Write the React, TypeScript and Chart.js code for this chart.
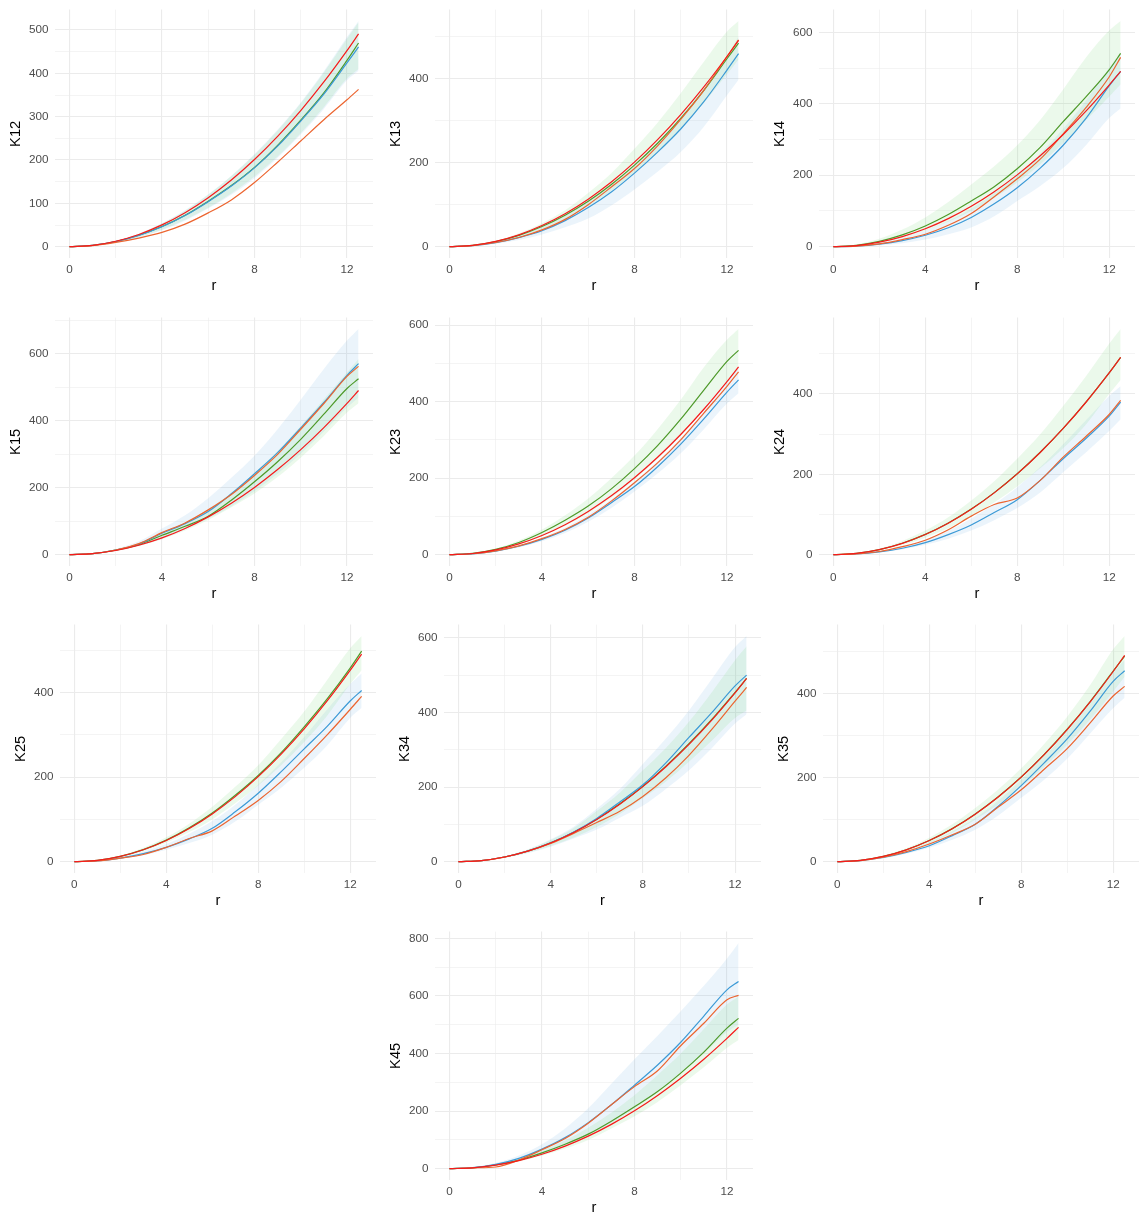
import React, { useEffect, useRef } from "react";
import { Chart, registerables } from "chart.js";

Chart.register(...registerables);

const FONT = "'Liberation Sans', Arial, Helvetica, sans-serif";

// radius values (x axis)
const R = [0, 1, 2, 3, 4, 5, 6, 7, 8, 9, 10, 11, 12, 12.5];
// theoretical K (red line)
const THEO = [0, 3.1, 12.6, 28.3, 50.3, 78.5, 113.1, 153.9, 201.1, 254.5, 314.2, 380.1, 452.4, 490.9];

// K12
const K12_OBS = [0, 2.5, 10, 20, 33, 52, 78, 108, 148, 195, 244, 293, 339, 363];
const K12_BLUE = [0, 3, 11.6, 26, 46, 72, 104, 140, 182, 232, 290, 352, 424, 461];
const K12_GREEN = [0, 3, 11.8, 26.4, 46.5, 72.5, 105, 141, 183, 234, 292, 355, 430, 470];
const K12_BLUE_LO = [0, 2.4, 9.5, 21.5, 38, 60, 88, 120, 158, 205, 259, 318, 384, 406];
const K12_BLUE_HI = [0, 3.4, 13.5, 30, 54, 84, 121, 164, 214, 270, 333, 405, 484, 521];
const K12_GREEN_LO = [0, 2.5, 10, 22.5, 39, 62, 90, 123, 162, 208, 262, 322, 388, 410];
const K12_GREEN_HI = [0, 3.4, 13.4, 30, 53.5, 83, 120, 163, 212, 268, 331, 402, 480, 518];

// K13
const K13_OBS = [0, 2.5, 10, 22, 40, 65, 100, 142, 186, 240, 303, 372, 452, 492];
const K13_BLUE = [0, 2.5, 9.5, 21.5, 38, 62, 93, 130, 175, 225, 280, 345, 420, 459];
const K13_GREEN = [0, 3, 12, 27, 48, 75, 108, 148, 194, 246, 305, 372, 447, 484];
const K13_BLUE_LO = [0, 2, 7, 16, 29, 46, 67, 98, 136, 178, 225, 285, 360, 397];
const K13_BLUE_HI = [0, 3, 12, 27, 47, 74, 108, 148, 195, 248, 310, 378, 455, 500];
const K13_GREEN_LO = [0, 2.6, 10, 23, 42, 66, 96, 133, 176, 224, 280, 342, 410, 445];
const K13_GREEN_HI = [0, 3.6, 14, 32, 56, 87, 128, 175, 233, 295, 365, 440, 512, 537];

// K14
const K14_OBS = [0, 1.5, 8, 20, 35, 60, 93, 140, 190, 245, 316, 390, 475, 530];
const K14_BLUE = [0, 1.5, 7, 17, 32, 53, 82, 120, 165, 220, 284, 360, 450, 491];
const K14_GREEN = [0, 4, 15, 33, 58, 90, 128, 168, 218, 278, 350, 420, 495, 541];
const K14_BLUE_LO = [0, 1, 4, 10, 20, 35, 54, 85, 128, 170, 220, 285, 360, 387];
const K14_BLUE_HI = [0, 2.5, 11, 25, 45, 72, 106, 150, 200, 260, 330, 410, 500, 545];
const K14_GREEN_LO = [0, 3, 11, 25, 45, 70, 100, 137, 180, 230, 290, 355, 420, 455];
const K14_GREEN_HI = [0, 6, 22, 48, 82, 125, 174, 225, 284, 355, 440, 530, 605, 632];

// K15
const K15_OBS = [0, 3, 14, 33, 66, 95, 134, 180, 237, 300, 375, 452, 533, 563];
const K15_BLUE = [0, 3, 14, 32, 64, 93, 129, 182, 242, 305, 379, 455, 536, 571];
const K15_GREEN = [0, 3, 13.5, 30, 58, 85, 115, 163, 218, 278, 345, 420, 497, 526];
const K15_BLUE_LO = [0, 2.5, 11, 27, 48, 77, 108, 145, 190, 242, 302, 368, 440, 470];
const K15_BLUE_HI = [0, 4, 17, 40, 78, 118, 169, 230, 296, 375, 463, 555, 640, 675];
const K15_GREEN_LO = [0, 2.8, 11.5, 26, 46, 72, 104, 142, 183, 232, 290, 355, 425, 453];
const K15_GREEN_HI = [0, 3.5, 15, 34, 62, 96, 136, 185, 245, 310, 385, 465, 545, 585];

// K23
const K23_OBS = [0, 2.5, 10, 23, 42, 66, 98, 140, 188, 240, 300, 370, 440, 478];
const K23_BLUE = [0, 2.4, 9.5, 22, 40, 64, 96, 136, 178, 230, 289, 355, 425, 457];
const K23_GREEN = [0, 3.6, 14, 32, 58, 90, 127, 172, 225, 285, 354, 430, 505, 534];
const K23_BLUE_LO = [0, 2, 8.5, 19, 35, 57, 86, 122, 165, 212, 265, 328, 395, 422];
const K23_BLUE_HI = [0, 2.8, 11, 25, 45, 71, 105, 145, 192, 245, 305, 375, 450, 490];
const K23_GREEN_LO = [0, 3, 12, 27, 48, 75, 108, 148, 196, 250, 310, 378, 450, 485];
const K23_GREEN_HI = [0, 4, 16, 37, 66, 103, 147, 200, 259, 328, 405, 490, 562, 590];

// K24
const K24_OBS = [0, 2, 8, 20, 36, 62, 96, 125, 141, 185, 243, 295, 349, 384];
const K24_BLUE = [0, 1.8, 7, 16, 30, 50, 74, 105, 137, 185, 239, 290, 345, 380];
const K24_GREEN = [0, 3.1, 12.6, 28.5, 50.5, 79, 113.5, 154.5, 201.5, 255, 314.5, 380.5, 452.5, 491];
const K24_BLUE_LO = [0, 1.5, 6, 13, 25, 40, 60, 86, 116, 155, 205, 255, 308, 337];
const K24_BLUE_HI = [0, 2.3, 9, 21, 38, 60, 90, 126, 168, 218, 275, 335, 395, 419];
const K24_GREEN_LO = [0, 2.6, 10.5, 24, 42, 66, 95, 130, 170, 215, 265, 325, 400, 435];
const K24_GREEN_HI = [0, 3.8, 15, 34, 60, 93, 135, 183, 239, 300, 370, 445, 525, 562];

// K25
const K25_OBS = [0, 2, 8.5, 17, 34, 55, 73, 108, 145, 190, 244, 300, 360, 391];
const K25_BLUE = [0, 2, 8.5, 19, 34, 54, 79, 118, 162, 213, 267, 320, 380, 405];
const K25_GREEN = [0, 3.1, 12.7, 28.6, 51, 80, 115, 157, 204, 258, 319, 385, 458, 498];
const K25_BLUE_LO = [0, 1.6, 6.5, 15, 28, 44, 64, 95, 135, 175, 222, 275, 340, 364];
const K25_BLUE_HI = [0, 2.6, 10.5, 24, 42, 66, 96, 135, 182, 235, 295, 360, 420, 445];
const K25_GREEN_LO = [0, 2.7, 11, 25, 45, 70, 100, 138, 180, 228, 283, 345, 420, 453];
const K25_GREEN_HI = [0, 3.6, 14.5, 33, 58, 90, 130, 177, 228, 290, 355, 430, 505, 534];

// K34
const K34_OBS = [0, 3, 12.5, 28, 49, 76, 105, 135, 175, 225, 285, 355, 430, 467];
const K34_BLUE = [0, 3.1, 12.7, 28.5, 50.5, 79.5, 116, 160, 206, 265, 333, 400, 471, 500];
const K34_GREEN = [0, 3.1, 12.6, 28.4, 50.4, 79, 114, 155, 202, 256, 316, 382, 454, 491];
const K34_BLUE_LO = [0, 2.7, 10.5, 23, 40, 62, 86, 118, 150, 195, 245, 305, 370, 395];
const K34_BLUE_HI = [0, 3.6, 15, 33, 60, 94, 142, 195, 262, 330, 405, 490, 575, 605];
const K34_GREEN_LO = [0, 2.8, 11, 24, 42, 65, 93, 128, 170, 215, 268, 325, 385, 405];
const K34_GREEN_HI = [0, 3.5, 14.5, 32, 58, 90, 136, 185, 245, 305, 375, 455, 540, 577];

// K35
const K35_OBS = [0, 2.8, 11, 24, 42, 64, 89, 130, 171, 220, 269, 330, 394, 417];
const K35_BLUE = [0, 2.5, 10, 22, 38, 62, 89, 132, 181, 235, 292, 358, 429, 454];
const K35_GREEN = [0, 3.1, 12.6, 28.4, 50.4, 78.7, 113.5, 154.5, 201.5, 255, 315, 381, 453, 489];
const K35_BLUE_LO = [0, 2.2, 8.5, 19, 33, 52, 76, 110, 152, 195, 245, 305, 365, 390];
const K35_BLUE_HI = [0, 2.8, 11.5, 26, 46, 72, 104, 145, 195, 250, 310, 378, 450, 480];
const K35_GREEN_LO = [0, 2.7, 11, 25, 44, 69, 100, 136, 178, 225, 278, 338, 405, 440];
const K35_GREEN_HI = [0, 3.5, 14.2, 32, 57, 89, 128, 172, 222, 280, 345, 420, 505, 537];

// K45
const K45_OBS = [0, 3, 6, 30, 66, 105, 158, 222, 285, 340, 427, 505, 587, 602];
const K45_BLUE = [0, 3.5, 15, 36, 68, 108, 160, 222, 290, 360, 439, 530, 621, 650];
const K45_GREEN = [0, 3.2, 13, 30, 55, 85, 120, 165, 215, 268, 332, 405, 488, 522];
const K45_BLUE_LO = [0, 3, 12, 28, 50, 80, 115, 158, 210, 268, 330, 400, 475, 501];
const K45_BLUE_HI = [0, 4.5, 20, 46, 85, 140, 210, 295, 380, 462, 547, 635, 730, 784];
const K45_GREEN_LO = [0, 2.8, 11, 25, 45, 70, 100, 140, 182, 232, 290, 352, 420, 447];
const K45_GREEN_HI = [0, 3.8, 15, 35, 63, 98, 142, 194, 255, 325, 400, 485, 570, 598];

type Panel = {
  name: string;
  obs: number[];
  blue: number[];
  green: number[];
  blueLo: number[];
  blueHi: number[];
  greenLo: number[];
  greenHi: number[];
  major: number;
};

const PANELS: Panel[] = [
  { name: "K12", obs: K12_OBS, blue: K12_BLUE, green: K12_GREEN, blueLo: K12_BLUE_LO, blueHi: K12_BLUE_HI, greenLo: K12_GREEN_LO, greenHi: K12_GREEN_HI, major: 100 },
  { name: "K13", obs: K13_OBS, blue: K13_BLUE, green: K13_GREEN, blueLo: K13_BLUE_LO, blueHi: K13_BLUE_HI, greenLo: K13_GREEN_LO, greenHi: K13_GREEN_HI, major: 200 },
  { name: "K14", obs: K14_OBS, blue: K14_BLUE, green: K14_GREEN, blueLo: K14_BLUE_LO, blueHi: K14_BLUE_HI, greenLo: K14_GREEN_LO, greenHi: K14_GREEN_HI, major: 200 },
  { name: "K15", obs: K15_OBS, blue: K15_BLUE, green: K15_GREEN, blueLo: K15_BLUE_LO, blueHi: K15_BLUE_HI, greenLo: K15_GREEN_LO, greenHi: K15_GREEN_HI, major: 200 },
  { name: "K23", obs: K23_OBS, blue: K23_BLUE, green: K23_GREEN, blueLo: K23_BLUE_LO, blueHi: K23_BLUE_HI, greenLo: K23_GREEN_LO, greenHi: K23_GREEN_HI, major: 200 },
  { name: "K24", obs: K24_OBS, blue: K24_BLUE, green: K24_GREEN, blueLo: K24_BLUE_LO, blueHi: K24_BLUE_HI, greenLo: K24_GREEN_LO, greenHi: K24_GREEN_HI, major: 200 },
  { name: "K25", obs: K25_OBS, blue: K25_BLUE, green: K25_GREEN, blueLo: K25_BLUE_LO, blueHi: K25_BLUE_HI, greenLo: K25_GREEN_LO, greenHi: K25_GREEN_HI, major: 200 },
  { name: "K34", obs: K34_OBS, blue: K34_BLUE, green: K34_GREEN, blueLo: K34_BLUE_LO, blueHi: K34_BLUE_HI, greenLo: K34_GREEN_LO, greenHi: K34_GREEN_HI, major: 200 },
  { name: "K35", obs: K35_OBS, blue: K35_BLUE, green: K35_GREEN, blueLo: K35_BLUE_LO, blueHi: K35_BLUE_HI, greenLo: K35_GREEN_LO, greenHi: K35_GREEN_HI, major: 200 },
  { name: "K45", obs: K45_OBS, blue: K45_BLUE, green: K45_GREEN, blueLo: K45_BLUE_LO, blueHi: K45_BLUE_HI, greenLo: K45_GREEN_LO, greenHi: K45_GREEN_HI, major: 200 },
];

// plot-area boxes (left, right, top) in page pixels
const BOXES = [
  { l: 54.9, r: 372.6, t: 5.8 },
  { l: 434.9, r: 752.6, t: 5.8 },
  { l: 819.0, r: 1134.5, t: 5.8 },
  { l: 54.9, r: 372.6, t: 313.5 },
  { l: 434.9, r: 752.6, t: 313.5 },
  { l: 819.0, r: 1134.5, t: 313.5 },
  { l: 59.6, r: 375.9, t: 620.8 },
  { l: 443.9, r: 761.2, t: 620.8 },
  { l: 822.9, r: 1139.2, t: 620.8 },
  { l: 434.9, r: 752.6, t: 927.8 },
];

const X_TICKS = [0, 2, 4, 6, 8, 10, 12];
const X_MAJOR = 4;

const RED = "#F61B1B";
const ORANGE = "#EC6530";
const BLUE = "#3C9AD6";
const GREEN = "#4E9A2A";
const BLUE_FILL = "rgba(110,175,225,0.14)";
const GREEN_FILL = "rgba(110,215,110,0.14)";

const AXIS_W = 55;
const AXIS_H = 40;
const PAD_T = 10;
const PAD_R = 10;
const AREA_H = 252;

function pts(ys: number[]) {
  return ys.map((y, i) => ({ x: R[i], y }));
}

function PanelChart({ p, box }: { p: Panel; box: { l: number; r: number; t: number } }) {
  const ref = useRef<HTMLCanvasElement>(null);
  const left = Math.round(box.l - AXIS_W);
  const top = Math.round(box.t - PAD_T);
  const width = Math.round(box.r - box.l + AXIS_W + PAD_R);
  const height = AREA_H + PAD_T + AXIS_H;

  useEffect(() => {
    if (!ref.current) return;
    const all = [p.obs, p.blue, p.green, p.blueLo, p.blueHi, p.greenLo, p.greenHi, THEO];
    const ymax = Math.max(...all.map((a) => Math.max(...a)));
    const ymin = -0.05 * ymax;
    const ytop = 1.05 * ymax;
    const minor = p.major / 2;

    const line = (data: number[], color: string, order: number) => ({
      data: pts(data),
      borderColor: color,
      backgroundColor: color,
      borderWidth: 1.2,
      pointRadius: 0,
      fill: false,
      order,
    });
    const band = (data: number[], fill: any, bg: string, order: number) => ({
      data: pts(data),
      borderColor: "rgba(0,0,0,0)",
      backgroundColor: bg,
      borderWidth: 0,
      pointRadius: 0,
      fill,
      order,
    });

    const chart = new Chart(ref.current, {
      type: "line",
      data: {
        datasets: [
          band(p.blueLo, false, BLUE_FILL, 9),
          band(p.blueHi, "-1", BLUE_FILL, 8),
          band(p.greenLo, false, GREEN_FILL, 7),
          band(p.greenHi, "-1", GREEN_FILL, 6),
          line(p.green, GREEN, 3),
          line(p.blue, BLUE, 2),
          line(p.obs, ORANGE, 1),
          line(THEO, RED, 0),
        ] as any,
      },
      options: {
        animation: false,
        responsive: false,
        devicePixelRatio: 1,
        layout: { padding: { top: PAD_T, right: PAD_R, left: 0, bottom: 0 } },
        elements: { line: { cubicInterpolationMode: "monotone" } },
        plugins: { legend: { display: false }, tooltip: { enabled: false } },
        scales: {
          x: {
            type: "linear",
            min: -0.625,
            max: 13.125,
            afterBuildTicks: (s: any) => {
              s.ticks = X_TICKS.map((v) => ({ value: v }));
            },
            afterFit: (s: any) => {
              s.height = AXIS_H;
            },
            border: { display: false },
            grid: {
              drawTicks: false,
              color: "#EBEBEB",
              lineWidth: (c: any) => (c.tick && c.tick.value % X_MAJOR === 0 ? 1.1 : 0.55),
            },
            ticks: {
              autoSkip: false,
              maxRotation: 0,
              padding: 4.5,
              color: "#4D4D4D",
              font: { family: FONT, size: 11.7 },
              callback: (v: any) => (Number(v) % X_MAJOR === 0 ? String(v) : ""),
            },
            title: {
              display: true,
              text: "r",
              color: "#000000",
              font: { family: FONT, size: 14.7 },
              padding: { top: 0, bottom: 3 },
            },
          },
          y: {
            type: "linear",
            min: ymin,
            max: ytop,
            afterBuildTicks: (s: any) => {
              const t: any[] = [];
              for (let v = 0; v <= ytop; v += minor) t.push({ value: v });
              s.ticks = t;
            },
            afterFit: (s: any) => {
              s.width = AXIS_W;
            },
            border: { display: false },
            grid: {
              drawTicks: false,
              color: "#EBEBEB",
              lineWidth: (c: any) => (c.tick && c.tick.value % p.major === 0 ? 1.1 : 0.55),
            },
            ticks: {
              autoSkip: false,
              padding: 6.6,
              color: "#4D4D4D",
              font: { family: FONT, size: 11.7 },
              callback: (v: any) => (Number(v) % p.major === 0 ? String(v) : ""),
            },
            title: {
              display: true,
              text: p.name,
              color: "#000000",
              font: { family: FONT, size: 14.7 },
              padding: { top: 7.6, bottom: 0 },
            },
          },
        },
      } as any,
    });
    return () => chart.destroy();
  }, []);

  return (
    <canvas
      ref={ref}
      width={width}
      height={height}
      style={{ position: "absolute", left, top, width, height, display: "block" }}
    />
  );
}

export default function App() {
  return (
    <div
      style={{
        position: "absolute",
        left: 0,
        top: 0,
        width: 1141,
        height: 1218,
        overflow: "hidden",
        background: "#FFFFFF",
      }}
    >
      {PANELS.map((p, i) => (
        <PanelChart key={p.name} p={p} box={BOXES[i]} />
      ))}
    </div>
  );
}
